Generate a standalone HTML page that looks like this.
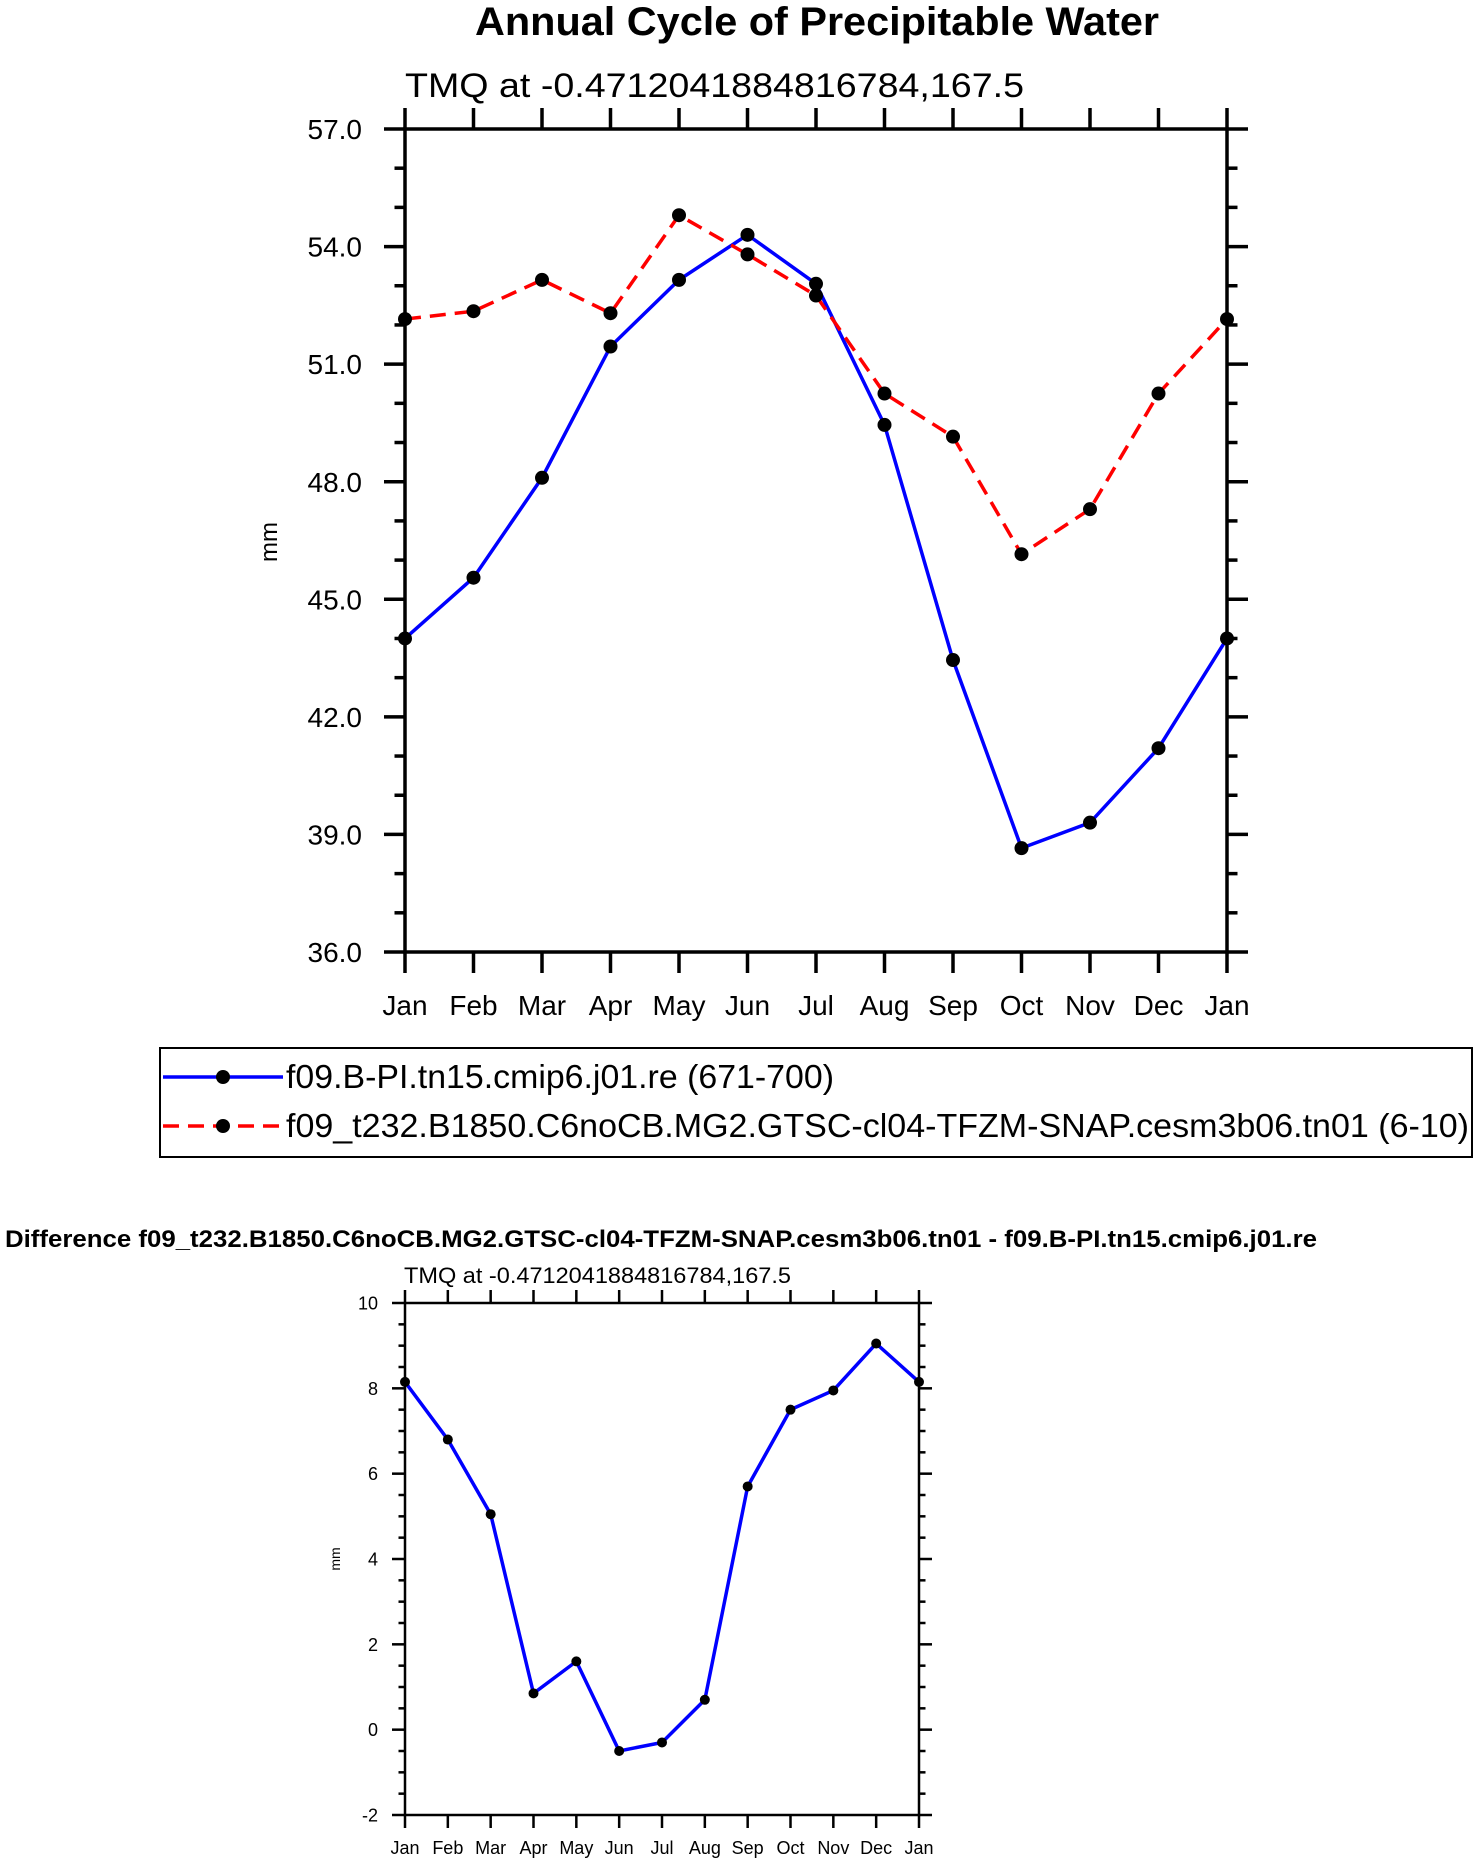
<!DOCTYPE html>
<html><head><meta charset="utf-8"><style>
html,body{margin:0;padding:0;background:#fff;}
svg{display:block;font-family:"Liberation Sans",sans-serif;}
</style></head><body>
<svg id="s" width="1477" height="1864" xmlns="http://www.w3.org/2000/svg">
<text x="475" y="35" font-size="40" font-weight="bold" textLength="684" lengthAdjust="spacingAndGlyphs">Annual Cycle of Precipitable Water</text>
<text x="405" y="97" font-size="34" textLength="619" lengthAdjust="spacingAndGlyphs">TMQ at -0.4712041884816784,167.5</text>
<text transform="translate(277,542) rotate(-90)" font-size="24" text-anchor="middle">mm</text>
<rect x="160" y="1048" width="1312" height="109" fill="none" stroke="#000" stroke-width="2"/>
<line x1="163" y1="1077" x2="283" y2="1077" stroke="#0000ff" stroke-width="3.5"/>
<circle cx="223" cy="1077" r="7"/>
<text x="286" y="1088" font-size="33" textLength="548" lengthAdjust="spacingAndGlyphs">f09.B-PI.tn15.cmip6.j01.re (671-700)</text>
<line x1="163" y1="1126" x2="283" y2="1126" stroke="#ff0000" stroke-width="3.5" stroke-dasharray="16,9"/>
<circle cx="223" cy="1126" r="7"/>
<text x="286" y="1137" font-size="33" textLength="1183" lengthAdjust="spacingAndGlyphs">f09_t232.B1850.C6noCB.MG2.GTSC-cl04-TFZM-SNAP.cesm3b06.tn01 (6-10)</text>
<text x="5" y="1247" font-size="24" font-weight="bold" textLength="1312" lengthAdjust="spacingAndGlyphs">Difference f09_t232.B1850.C6noCB.MG2.GTSC-cl04-TFZM-SNAP.cesm3b06.tn01 - f09.B-PI.tn15.cmip6.j01.re</text>
<text x="404" y="1283" font-size="22" textLength="387" lengthAdjust="spacingAndGlyphs">TMQ at -0.4712041884816784,167.5</text>
<text transform="translate(340,1559) rotate(-90)" font-size="14" text-anchor="middle">mm</text>
<g id="g"></g>
</svg>
<script>
var g=document.getElementById('g'),NS='http://www.w3.org/2000/svg';
function el(t,a,txt){var e=document.createElementNS(NS,t);for(var k in a)e.setAttribute(k,a[k]);if(txt!=null)e.textContent=txt;g.appendChild(e);return e;}
var M=['Jan','Feb','Mar','Apr','May','Jun','Jul','Aug','Sep','Oct','Nov','Dec','Jan'];
function plot(o){
 var X=function(i){return o.l+(o.r-o.l)*i/12;},Y=function(v){return o.b-(v-o.y0)/(o.y1-o.y0)*(o.b-o.t);};
 for(var v=o.y0;v<=o.y1+1e-9;v+=o.minor){var maj=Math.abs(Math.round(v/o.major)*o.major-v)<1e-6;var L=maj?o.tl:o.tl*0.5;var y=Y(v);
  el('line',{x1:o.l-L,y1:y,x2:o.l,y2:y,stroke:'#000','stroke-width':o.aw});
  el('line',{x1:o.r,y1:y,x2:o.r+L,y2:y,stroke:'#000','stroke-width':o.aw});
  if(maj)el('text',{x:o.lx,y:y+o.fs*0.36,'font-size':o.fs,'text-anchor':'end'},o.fmt(v));}
 for(var i=0;i<=12;i++){var x=X(i);
  el('line',{x1:x,y1:o.t-o.tl,x2:x,y2:o.t,stroke:'#000','stroke-width':o.aw});
  el('line',{x1:x,y1:o.b,x2:x,y2:o.b+o.tl,stroke:'#000','stroke-width':o.aw});
  el('text',{x:x,y:o.my,'font-size':o.fs,'text-anchor':'middle'},M[i]);}
 el('rect',{x:o.l,y:o.t,width:o.r-o.l,height:o.b-o.t,fill:'none',stroke:'#000','stroke-width':o.aw});
 o.series.forEach(function(s){var p=s.d.map(function(v,i){return X(i)+','+Y(v);}).join(' ');
  var a={points:p,fill:'none',stroke:s.c,'stroke-width':o.lw};if(s.dash)a['stroke-dasharray']=s.dash;el('polyline',a);});
 o.series.forEach(function(s){s.d.forEach(function(v,i){el('circle',{cx:X(i),cy:Y(v),r:o.mr});});});
}
plot({l:405,r:1227,t:129,b:952,y0:36,y1:57,major:3,minor:1,tl:21,aw:3.5,fs:28,lx:362,my:1015,lw:3.5,mr:7,
 fmt:function(v){return v.toFixed(1);},
 series:[{c:'#0000ff',d:[44.0,45.55,48.1,51.45,53.15,54.3,53.05,49.45,43.45,38.65,39.3,41.2,44.0]},
 {c:'#ff0000',dash:'16,9',d:[52.15,52.35,53.15,52.3,54.8,53.8,52.75,50.25,49.15,46.15,47.3,50.25,52.15]}]});
plot({l:405,r:919,t:1303,b:1815,y0:-2,y1:10,major:2,minor:0.5,tl:13,aw:2.5,fs:18,lx:378,my:1854,lw:3.5,mr:5,
 fmt:function(v){return String(Math.round(v));},
 series:[{c:'#0000ff',d:[8.15,6.8,5.05,0.85,1.6,-0.5,-0.3,0.7,5.7,7.5,7.95,9.05,8.15]}]});
</script>
</body></html>
